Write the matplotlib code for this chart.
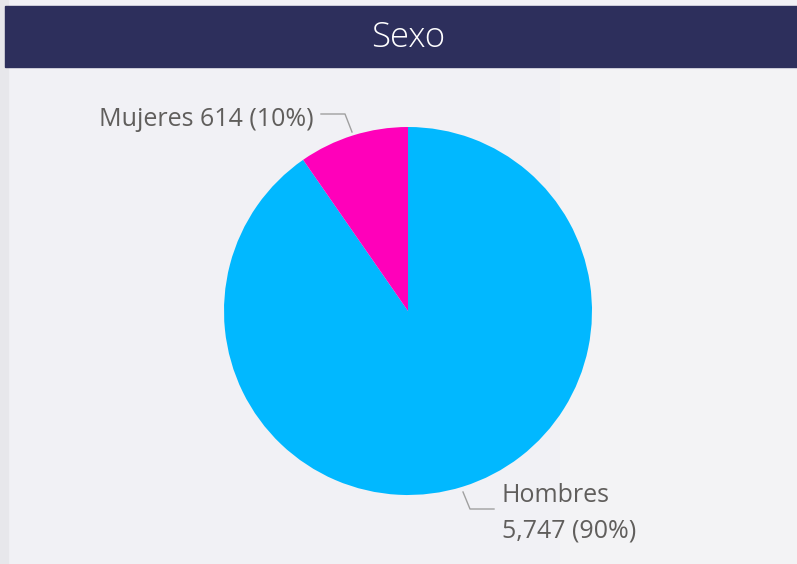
import matplotlib.pyplot as plt
from matplotlib.patches import Rectangle

# Data
categories = ['Hombres', 'Mujeres']
values = [5747, 614]
colors = ['#01B8FF', '#FF00BA']
title = 'Sexo'

W, H = 797, 564
fig = plt.figure(figsize=(W / 100, H / 100), dpi=100)
fig.patch.set_facecolor('#F1F1F5')
ax = fig.add_axes([0, 0, 1, 1])

# Background pieces (left strip, lighter right side)
ax.add_patch(Rectangle((0, 0), 8, H, color='#E7E7EB', zorder=0))
ax.add_patch(Rectangle((560, 0), W - 560, H - 70, color='#F4F4F5', zorder=0, alpha=0.7))

# Title bar
ax.add_patch(Rectangle((5, H - 67), W - 5, 61, color='#2D2F5C', zorder=1))
ax.text(408, H - 38, title, color='white', fontsize=25, fontfamily='Open Sans',
        fontweight='light', ha='center', va='center', zorder=2)

# Pie
cx, cy, r = 408, H - 311, 184
total = sum(values)
ax.pie(values, colors=colors, startangle=90, counterclock=False,
       center=(cx, cy), radius=r, wedgeprops=dict(linewidth=0), frame=True)
ax.set_xlim(0, W)
ax.set_ylim(0, H)
ax.set_aspect('equal')
ax.axis('off')

lbl_color = '#605E5C'
line_color = '#A0A0A0'
font = dict(fontsize=18, fontfamily='Open Sans', color=lbl_color)

pct = [round(v / total * 100) for v in values]

# Mujeres label + leader
ax.plot([321, 345, 352], [H - 114, H - 114, H - 132], color=line_color, lw=1)
ax.text(314, H - 119, f'{categories[1]} {values[1]:,} ({pct[1]}%)',
        ha='right', va='center', **font)

# Hombres label + leader
ax.plot([463, 470, 494], [H - 492, H - 509, H - 509], color=line_color, lw=1)
ax.text(502, H - 496, categories[0], ha='left', va='center', **font)
ax.text(502, H - 531, f'{values[0]:,} ({pct[0]}%)', ha='left', va='center', **font)

fig.savefig('out.png', dpi=100, facecolor=fig.get_facecolor())
